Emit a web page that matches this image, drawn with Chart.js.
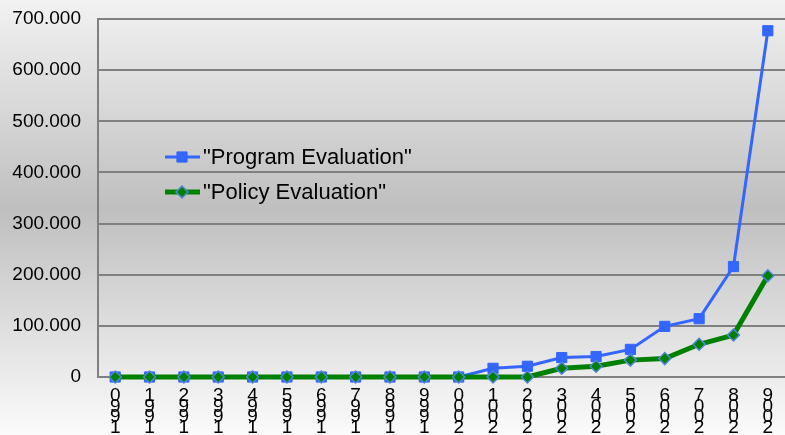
<!DOCTYPE html>
<html>
<head>
<meta charset="utf-8">
<script src="https://cdn.jsdelivr.net/npm/chart.js@4.4.0/dist/chart.umd.min.js"></script>
<style>
  html, body { margin: 0; padding: 0; background: #fff; }
  #wrap { width: 785px; height: 435px; }
</style>
</head>
<body>
<div id="wrap"><canvas id="c" width="785" height="435"></canvas></div>
<script>
const years = ['1990','1991','1992','1993','1994','1995','1996','1997','1998','1999',
               '2000','2001','2002','2003','2004','2005','2006','2007','2008','2009'];
const programEvaluation = [0,0,0,0,0,0,0,0,0,0,0,17000,21000,38000,40000,54000,99000,114000,216000,677000];
const policyEvaluation  = [0,0,0,0,0,0,0,0,0,0,0,0,0,17000,21000,33000,36000,64000,82000,198000];
const seriesNames = ['"Program Evaluation"', '"Policy Evaluation"'];
const yTicks = [0,100000,200000,300000,400000,500000,600000,700000];

const FONT = "'Liberation Sans', Arial, sans-serif";
const BLUE = '#3366ff';
const GREEN = '#008000';
const DIAMOND_EDGE = '#4f86d9';

const bgPlugin = {
  id: 'bg',
  beforeDraw(chart) {
    const ctx = chart.ctx;
    const g = ctx.createLinearGradient(0, 0, 0, chart.height);
    g.addColorStop(0, '#f2f2f2');
    g.addColorStop(0.48, '#bfbfbf');
    g.addColorStop(1, '#fbfbfb');
    ctx.save();
    ctx.fillStyle = g;
    ctx.fillRect(0, 0, chart.width, chart.height);
    ctx.restore();
  }
};

const legendPlugin = {
  id: 'innerLegend',
  afterDatasetsDraw(chart) {
    const ctx = chart.ctx;
    const rows = [
      { y: 157, ds: chart.data.datasets[0] },
      { y: 192, ds: chart.data.datasets[1] }
    ];
    ctx.save();
    rows.forEach(r => {
      const ds = r.ds;
      ctx.strokeStyle = ds.borderColor;
      ctx.lineWidth = ds.borderWidth;
      ctx.beginPath();
      ctx.moveTo(165, r.y);
      ctx.lineTo(200, r.y);
      ctx.stroke();
      ctx.fillStyle = ds.pointBackgroundColor;
      ctx.strokeStyle = ds.pointBorderColor;
      ctx.lineWidth = ds.pointBorderWidth;
      ctx.beginPath();
      const rad = ds.pointRadius;
      if (ds.pointStyle === 'rect') {
        ctx.rect(182 - rad * 0.7071, r.y - rad * 0.7071, rad * 1.4142, rad * 1.4142);
      } else {
        ctx.moveTo(182, r.y - rad);
        ctx.lineTo(182 + rad, r.y);
        ctx.lineTo(182, r.y + rad);
        ctx.lineTo(182 - rad, r.y);
        ctx.closePath();
      }
      ctx.fill();
      ctx.stroke();
      ctx.fillStyle = '#000';
      ctx.font = '22px ' + FONT;
      ctx.textBaseline = 'middle';
      ctx.textAlign = 'left';
      ctx.fillText(ds.label, 203, r.y + 1);
    });
    ctx.restore();
  }
};

new Chart(document.getElementById('c'), {
  type: 'line',
  data: {
    labels: years,
    datasets: [
      {
        label: seriesNames[0],
        data: programEvaluation,
        borderColor: BLUE,
        borderWidth: 3,
        pointStyle: 'rect',
        pointRadius: 7.2,
        pointBackgroundColor: BLUE,
        pointBorderColor: BLUE,
        pointBorderWidth: 1,
        tension: 0,
        clip: 8,
        order: 2
      },
      {
        label: seriesNames[1],
        data: policyEvaluation,
        borderColor: GREEN,
        borderWidth: 5,
        pointStyle: 'rectRot',
        pointRadius: 6,
        pointBackgroundColor: GREEN,
        pointBorderColor: DIAMOND_EDGE,
        pointBorderWidth: 1.5,
        tension: 0,
        clip: 8,
        order: 1
      }
    ]
  },
  options: {
    responsive: false,
    animation: false,
    events: [],
    layout: { autoPadding: false, padding: { top: 19, right: 0, left: 0, bottom: 0 } },
    plugins: {
      legend: { display: false },
      tooltip: { enabled: false },
      title: { display: false }
    },
    scales: {
      x: {
        offset: true,
        grid: { display: false, drawTicks: false },
        border: { display: true, color: '#808080', width: 2 },
        ticks: {
          color: '#000',
          font: { family: FONT, size: 19, lineHeight: 0.55 },
          padding: 14,
          maxRotation: 0,
          minRotation: 0,
          autoSkip: false,
          callback: function(v, i) { return years[i].split('').reverse(); }
        },
        afterFit(scale) { scale.height = 58; scale.paddingLeft = 0; scale.paddingRight = 0; }
      },
      y: {
        min: 0,
        max: 700000,
        afterBuildTicks(scale) { scale.ticks = yTicks.map(v => ({ value: v })); },
        grid: { color: '#808080', lineWidth: 2, drawTicks: false },
        border: { display: true, color: '#808080', width: 2 },
        ticks: {
          color: '#000',
          font: { family: FONT, size: 19 },
          padding: 17,
          callback: v => v.toLocaleString('de-DE')
        },
        afterFit(scale) { scale.width = 98; scale.paddingTop = 0; scale.paddingBottom = 0; }
      }
    }
  },
  plugins: [bgPlugin, legendPlugin]
});
</script>
</body>
</html>
